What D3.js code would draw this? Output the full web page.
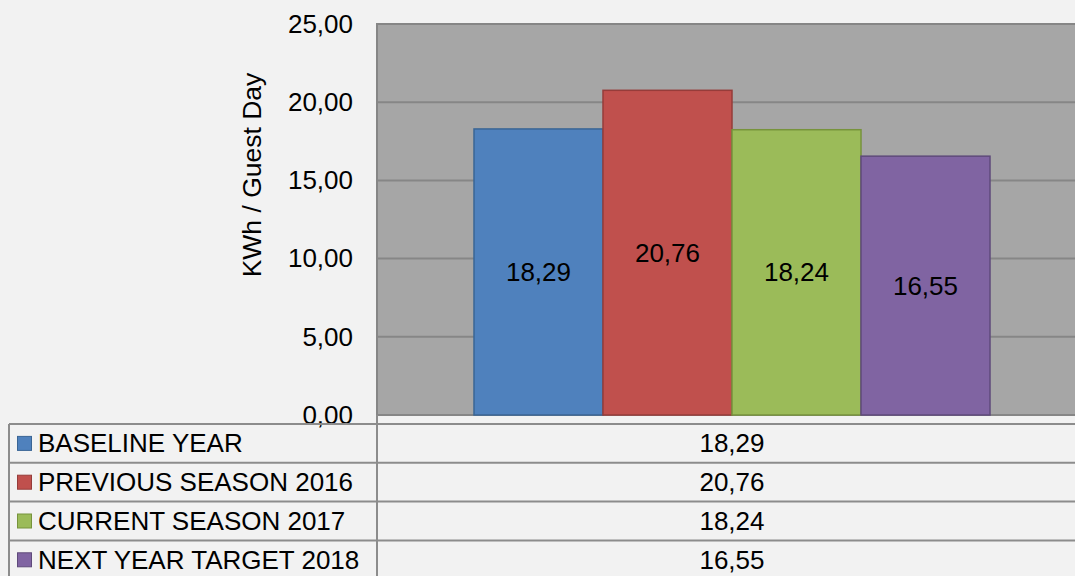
<!DOCTYPE html>
<html>
<head>
<meta charset="utf-8">
<script src="https://cdn.jsdelivr.net/npm/d3@7"></script>
<style>
  body { margin: 0; background: #f2f2f2; }
  svg { display: block; font-family: "Liberation Sans", Arial, sans-serif; }
</style>
</head>
<body>
<svg width="1075" height="576"></svg>
<script>
var series = ["BASELINE YEAR", "PREVIOUS SEASON 2016", "CURRENT SEASON 2017", "NEXT YEAR TARGET 2018"];
var values = [18.29, 20.76, 18.24, 16.55];
var fills = ["#4f81bd", "#c0504d", "#9bbb59", "#8064a2"];
var strokes = ["#3a6595", "#963c3a", "#77933c", "#5f4a7b"];
var ticks = [0, 5, 10, 15, 20, 25];
var yTitle = "KWh / Guest Day";

var svg = d3.select("svg");
var fmt = function(v) { return d3.format(".2f")(v).replace(".", ","); };
var fs = 26;

var plot = { left: 377, right: 1087, top: 24, bottom: 415 };

var y = d3.scaleLinear().domain([0, 25]).range([plot.bottom, plot.top]);
var x = d3.scaleBand().domain(series).range([474, 990]).padding(0);

// plot background
svg.append("rect")
  .attr("x", plot.left).attr("y", plot.top)
  .attr("width", plot.right - plot.left).attr("height", plot.bottom - plot.top)
  .attr("fill", "#a6a6a6").attr("stroke", "#868686").attr("stroke-width", 2);

// gridlines
svg.append("g").selectAll("line").data(ticks.slice(1, -1)).enter().append("line")
  .attr("x1", plot.left).attr("x2", plot.right)
  .attr("y1", function(d) { return y(d); }).attr("y2", function(d) { return y(d); })
  .attr("stroke", "#868686").attr("stroke-width", 2);

// tick labels
var yAxis = d3.axisLeft(y).tickValues(ticks).tickFormat(fmt).tickSize(0).tickPadding(24);
var ag = svg.append("g").attr("transform", "translate(" + plot.left + ",0)").call(yAxis);
ag.select(".domain").remove();
ag.attr("font-size", fs).attr("font-family", "Liberation Sans, Arial, sans-serif");
ag.selectAll("text").attr("fill", "#000");

// axis title
svg.append("text")
  .attr("transform", "translate(252,175) rotate(-90)")
  .attr("text-anchor", "middle").attr("dominant-baseline", "central")
  .attr("font-size", 26.5).text(yTitle);

// bars
svg.append("g").selectAll("rect").data(values).enter().append("rect")
  .attr("x", function(d, i) { return x(series[i]); })
  .attr("y", function(d) { return y(d); })
  .attr("width", x.bandwidth())
  .attr("height", function(d) { return plot.bottom - y(d); })
  .attr("fill", function(d, i) { return fills[i]; })
  .attr("stroke", function(d, i) { return strokes[i]; })
  .attr("stroke-width", 1.5);

// value labels
svg.append("g").selectAll("text").data(values).enter().append("text")
  .attr("x", function(d, i) { return x(series[i]) + x.bandwidth() / 2; })
  .attr("y", function(d) { return (y(d) + plot.bottom) / 2; })
  .attr("text-anchor", "middle").attr("dominant-baseline", "central")
  .attr("font-size", fs).text(fmt);

// data table
var tableTop = 424, rowH = 38.8, tableLeft = 9;
var tg = svg.append("g").attr("stroke", "#8c8c8c").attr("stroke-width", 2);
series.forEach(function(s, i) {
  tg.append("line").attr("x1", tableLeft).attr("x2", 1075)
    .attr("y1", tableTop + i * rowH).attr("y2", tableTop + i * rowH);
});
tg.append("line").attr("x1", tableLeft).attr("x2", tableLeft)
  .attr("y1", tableTop).attr("y2", 576);
tg.append("line").attr("x1", plot.left).attr("x2", plot.left)
  .attr("y1", plot.bottom).attr("y2", 576);

var rows = svg.append("g").selectAll("g").data(series).enter().append("g")
  .attr("transform", function(d, i) { return "translate(0," + (tableTop + i * rowH + rowH / 2) + ")"; });
rows.append("rect")
  .attr("x", 17.5).attr("y", -7).attr("width", 14).attr("height", 14)
  .attr("fill", function(d, i) { return fills[i]; })
  .attr("stroke", function(d, i) { return strokes[i]; }).attr("stroke-width", 1);
rows.append("text")
  .attr("x", 38).attr("dominant-baseline", "central")
  .attr("font-size", fs).text(function(d) { return d; });
rows.append("text")
  .attr("x", (plot.left + plot.right) / 2)
  .attr("text-anchor", "middle").attr("dominant-baseline", "central")
  .attr("font-size", fs).text(function(d, i) { return fmt(values[i]); });
</script>
</body>
</html>
